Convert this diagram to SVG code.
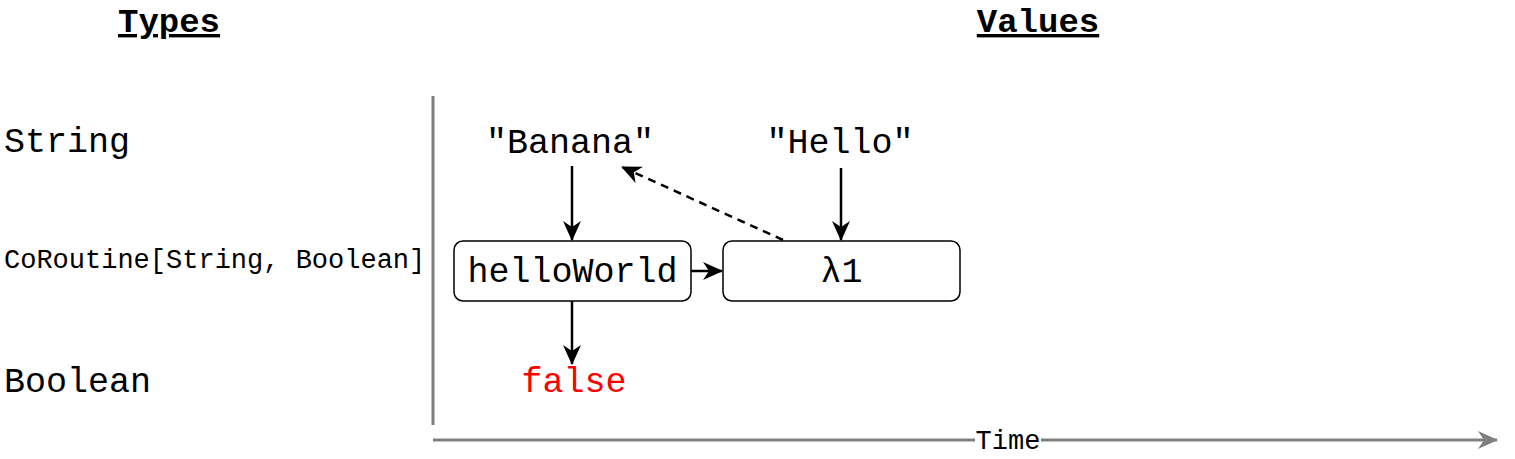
<svg xmlns="http://www.w3.org/2000/svg" width="1515" height="459" viewBox="0 0 1515 459">
<style>
text{font-family:"Liberation Mono","Courier New",monospace;fill:#000}
.t{font-size:35px}
.h{font-size:34px;font-weight:bold;text-decoration:underline}
.box{fill:#fff;stroke:#000;stroke-width:1.5}
.e{stroke:#000;stroke-width:2.5;fill:none}
.g{stroke:#808080;stroke-width:3;fill:none}
</style>
<defs>
<marker id="a" viewBox="0 0 20 18" refX="19" refY="9" markerWidth="20" markerHeight="18" markerUnits="userSpaceOnUse" orient="auto">
<path d="M0,0 L20,9 L0,18 L6,9 Z" fill="#000"/>
</marker>
<marker id="ag" viewBox="0 0 20 18" refX="19" refY="9" markerWidth="20" markerHeight="18" markerUnits="userSpaceOnUse" orient="auto">
<path d="M0,0 L20,9 L0,18 L6,9 Z" fill="#808080"/>
</marker>
</defs>
<g id="headers">
<text class="h" x="169" y="32" text-anchor="middle">Types</text>
<text class="h" x="1038" y="32" text-anchor="middle">Values</text>
</g>
<g id="types">
<text class="t" x="4" y="152">String</text>
<text x="4" y="268" style="font-size:27px">CoRoutine[String, Boolean]</text>
<text class="t" x="4" y="392">Boolean</text>
</g>
<g id="axes">
<line class="g" x1="433" y1="96" x2="433" y2="425"/>
<line class="g" x1="433" y1="440" x2="1497" y2="440" marker-end="url(#ag)"/>
<rect x="975" y="428" width="66" height="24" fill="#fff"/>
<text x="1008" y="449" text-anchor="middle" style="font-size:27px">Time</text>
</g>
<g id="connectors">
<line class="e" x1="572" y1="166" x2="572" y2="240" marker-end="url(#a)"/>
<line class="e" x1="841" y1="168" x2="841" y2="240" marker-end="url(#a)"/>
<line class="e" x1="572" y1="301" x2="572" y2="364" marker-end="url(#a)"/>
<line class="e" x1="691" y1="271" x2="722" y2="271" marker-end="url(#a)"/>
<line class="e" x1="783" y1="240" x2="622" y2="167" stroke-dasharray="8,6" marker-end="url(#a)"/>
</g>
<g id="banana"><text class="t" x="570" y="153" text-anchor="middle">"Banana"</text></g>
<g id="hello"><text class="t" x="840" y="153" text-anchor="middle">"Hello"</text></g>
<g id="helloWorld">
<rect class="box" x="454" y="241" width="237" height="60" rx="9"/>
<text class="t" x="572.5" y="282" text-anchor="middle">helloWorld</text>
</g>
<g id="lambda1">
<rect class="box" x="723" y="241" width="237" height="60" rx="9"/>
<text class="t" x="841.5" y="282" text-anchor="middle">λ1</text>
</g>
<g id="false"><text class="t" x="574" y="392" text-anchor="middle" style="fill:#ff0000">false</text></g>
</svg>
